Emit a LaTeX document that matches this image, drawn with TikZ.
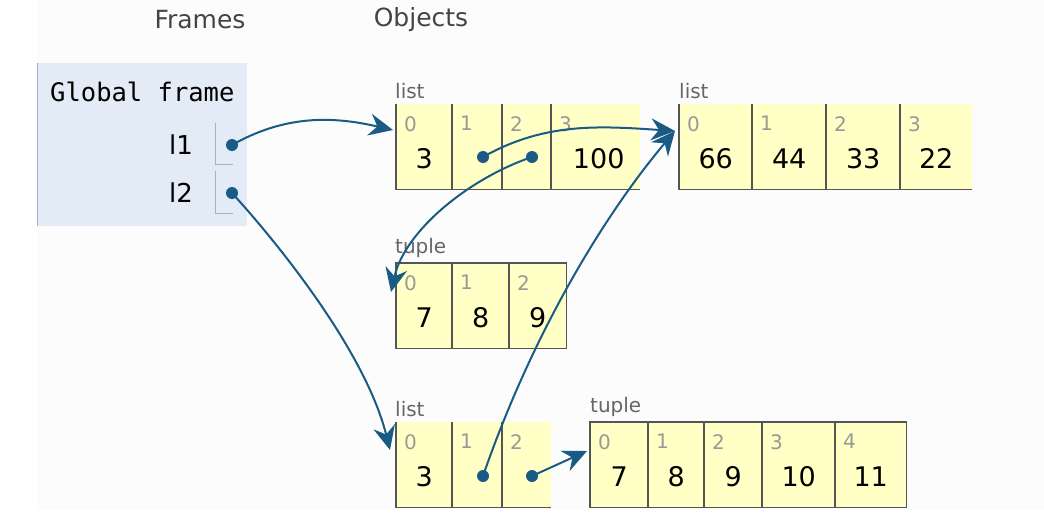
\documentclass[tikz,border=0pt]{standalone}
\usepackage{fontspec}
\setmainfont{DejaVu Sans}
\newfontfamily\monofont{DejaVu Sans Mono}
\usetikzlibrary{arrows.meta,calc}
\definecolor{cellfill}{HTML}{FFFFC6}
\definecolor{cellline}{HTML}{555555}
\definecolor{framefill}{HTML}{E2EBF6}
\definecolor{frameline}{HTML}{A6B3B6}
\definecolor{ptrcol}{HTML}{1A5B85}
\definecolor{idxcol}{HTML}{999999}
\definecolor{labcol}{HTML}{666666}
\definecolor{headcol}{HTML}{444444}
\definecolor{bgcol}{HTML}{FCFCFC}
\tikzset{
  cell/.style={fill=cellfill, inner sep=0pt, anchor=north west, minimum height=85pt},
  border/.style={draw=cellline, line width=1.2pt},
  idx/.style={text=idxcol, font=\fontsize{20}{20}\selectfont, anchor=north west, inner sep=0pt},
  val/.style={text=black, font=\fontsize{27}{27}\selectfont, inner sep=0pt},
  objlab/.style={text=labcol, font=\fontsize{20}{20}\selectfont, anchor=south west, inner sep=0pt},
  head/.style={text=headcol, font=\fontsize{25}{25}\selectfont, inner sep=0pt},
  dot/.style={circle, fill=ptrcol, inner sep=0pt, minimum size=12pt},
  ptr/.style={draw=ptrcol, line width=2pt, -{Stealth[length=24pt,width=22pt,inset=8pt]}},
  varname/.style={text=black, font=\fontsize{26}{26}\selectfont, anchor=east, inner sep=0pt},
}
\begin{document}
\begin{tikzpicture}[x=1pt,y=-1pt]
\useasboundingbox (0,0) rectangle (1044,530);
\fill[bgcol] (37,0) rectangle (1044,510);
% headers
\node[head] (hF) at (200,20) {Frames};
\node[head] (hO) at (421,20) {Objects};
% global frame
\node[fill=framefill, inner sep=0pt, anchor=north west, minimum width=210pt, minimum height=163pt] (gf) at (37,63) {};
\draw[frameline, line width=1pt] (gf.north west) -- (gf.south west);
\node[text=black, font=\monofont\fontsize{25.5}{25.5}\selectfont, anchor=west, inner sep=0pt] (gft) at (50,92) {Global frame};
\node[varname] (v1) at (193,145) {l1};
\node[varname] (v2) at (193,193) {l2};
\coordinate (p1t) at (215,123); \coordinate (p1b) at (215,164); \coordinate (p1r) at (233,164);
\coordinate (p2t) at (215,171); \coordinate (p2b) at (215,213); \coordinate (p2r) at (233,213);
\draw[frameline, line width=1pt] (p1t) -- (p1b) -- (p1r);
\draw[frameline, line width=1pt] (p2t) -- (p2b) -- (p2r);
\node[dot] (d1) at (232,145) {};
\node[dot] (d2) at (232,193) {};

% list A: 3, ptr, ptr, 100
\node[objlab] (la) at (395,99) {list};
\node[cell, minimum width=56pt] (a0) at (396,104) {};
\node[cell, minimum width=50pt] (a1) at (452,104) {};
\node[cell, minimum width=49pt] (a2) at (502,104) {};
\node[cell, minimum width=89pt] (a3) at (551,104) {};
\foreach \c in {a0,a1,a2,a3} \draw[border] (\c.north west) -- (\c.south west) -- (\c.south east);
\node[idx] at ($(a0.north west)+(8,12)$) {0};
\node[idx] at ($(a1.north west)+(8,12)$) {1};
\node[idx] at ($(a2.north west)+(8,12)$) {2};
\node[idx] at ($(a3.north west)+(8,12)$) {3};
\node[val] (a0v) at ($(a0.center)+(0,12)$) {3};
\node[val] (a3v) at ($(a3.center)+(3,12)$) {100};
\node[dot] (da1) at (483,157) {};
\node[dot] (da2) at (532,157) {};

% list B: 66 44 33 22
\node[objlab] (lb) at (679,99) {list};
\node[cell, minimum width=73pt] (b0) at (679,104) {};
\node[cell, minimum width=74pt] (b1) at (752,104) {};
\node[cell, minimum width=74pt] (b2) at (826,104) {};
\node[cell, minimum width=72pt] (b3) at (900,104) {};
\foreach \c in {b0,b1,b2,b3} \draw[border] (\c.north west) -- (\c.south west) -- (\c.south east);
\node[idx] at ($(b0.north west)+(8,12)$) {0};
\node[idx] at ($(b1.north west)+(8,12)$) {1};
\node[idx] at ($(b2.north west)+(8,12)$) {2};
\node[idx] at ($(b3.north west)+(8,12)$) {3};
\node[val] at ($(b0.center)+(0,12)$) {66};
\node[val] at ($(b1.center)+(0,12)$) {44};
\node[val] at ($(b2.center)+(0,12)$) {33};
\node[val] at ($(b3.center)+(0,12)$) {22};
\coordinate (b0in) at (675,131);

% tuple C: 7 8 9
\node[objlab] (lc) at (395,258) {tuple};
\node[cell, minimum width=56pt] (c0) at (396,263) {};
\node[cell, minimum width=57pt] (c1) at (452,263) {};
\node[cell, minimum width=57pt] (c2) at (509,263) {};
\foreach \c in {c0,c1,c2} \draw[border] (\c.north west) rectangle (\c.south east);
\node[idx] at ($(c0.north west)+(8,12)$) {0};
\node[idx] at ($(c1.north west)+(8,12)$) {1};
\node[idx] at ($(c2.north west)+(8,12)$) {2};
\node[val] at ($(c0.center)+(0,12)$) {7};
\node[val] at ($(c1.center)+(0,12)$) {8};
\node[val] at ($(c2.center)+(0,12)$) {9};
\coordinate (c0in) at (391,292);

% list D: 3, ptr, ptr
\node[objlab] (ld) at (395,417) {list};
\node[cell, minimum width=56pt] (e0) at (396,422) {};
\node[cell, minimum width=50pt] (e1) at (452,422) {};
\node[cell, minimum width=49pt] (e2) at (502,422) {};
\foreach \c in {e0,e1,e2} \draw[border] (\c.north west) -- (\c.south west) -- (\c.south east);
\node[idx] at ($(e0.north west)+(8,12)$) {0};
\node[idx] at ($(e1.north west)+(8,12)$) {1};
\node[idx] at ($(e2.north west)+(8,12)$) {2};
\node[val] at ($(e0.center)+(0,12)$) {3};
\node[dot] (de1) at (483,476) {};
\node[dot] (de2) at (532,476) {};
\coordinate (e0in) at (390,450);

% tuple F: 7 8 9 10 11
\node[objlab] (lf) at (590,417) {tuple};
\node[cell, minimum width=58pt] (f0) at (590,422) {};
\node[cell, minimum width=56pt] (f1) at (648,422) {};
\node[cell, minimum width=58pt] (f2) at (704,422) {};
\node[cell, minimum width=73pt] (f3) at (762,422) {};
\node[cell, minimum width=71pt] (f4) at (835,422) {};
\foreach \c in {f0,f1,f2,f3,f4} \draw[border] (\c.north west) rectangle (\c.south east);
\node[idx] at ($(f0.north west)+(8,12)$) {0};
\node[idx] at ($(f1.north west)+(8,12)$) {1};
\node[idx] at ($(f2.north west)+(8,12)$) {2};
\node[idx] at ($(f3.north west)+(8,12)$) {3};
\node[idx] at ($(f4.north west)+(8,12)$) {4};
\node[val] at ($(f0.center)+(0,12)$) {7};
\node[val] at ($(f1.center)+(0,12)$) {8};
\node[val] at ($(f2.center)+(0,12)$) {9};
\node[val] at ($(f3.center)+(0,12)$) {10};
\node[val] at ($(f4.center)+(0,12)$) {11};
\coordinate (f0in) at (587,451);
\coordinate (a0in) at (393,130);

% pointers
\draw[ptr] (d1.center) .. controls (290,112) and (340,118) .. (a0in);
\draw[ptr] (d2.center) .. controls (275,240) and (365,350) .. (e0in);
\draw[ptr] (da1.center) .. controls (545,122) and (600,126) .. (b0in);
\draw[ptr] (da2.center) .. controls (470,178) and (405,230) .. (c0in);
\draw[ptr] (de1.center) .. controls (530,340) and (600,220) .. (b0in);
\draw[ptr] (de2.center) -- (f0in);
\end{tikzpicture}
\end{document}
